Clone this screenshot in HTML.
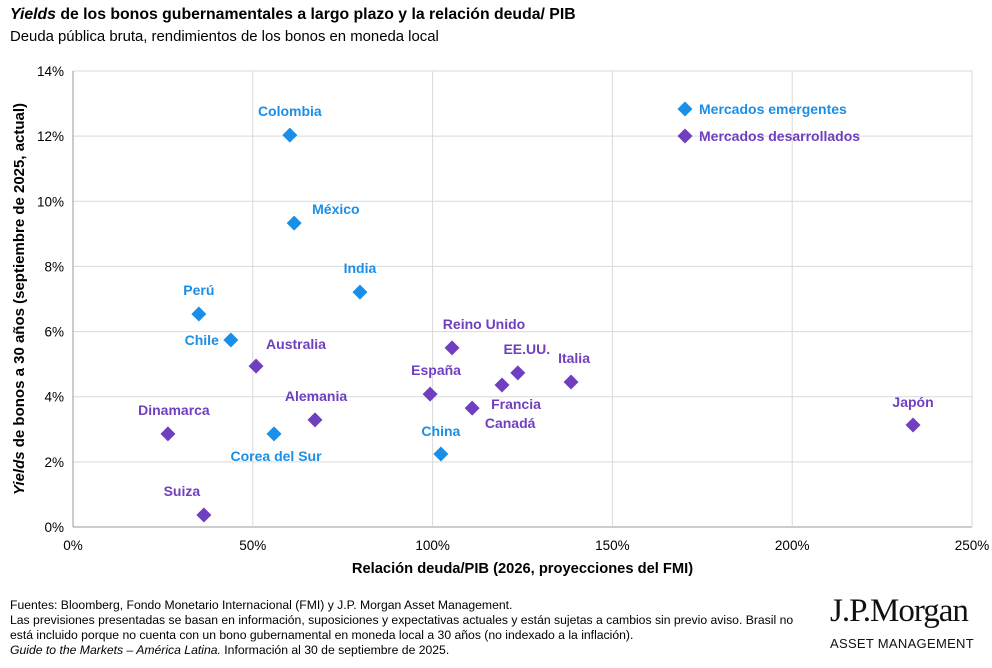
<!DOCTYPE html>
<html><head><meta charset="utf-8"><style>
body{margin:0;width:992px;height:668px;background:#fff;font-family:"Liberation Sans",sans-serif;overflow:hidden;position:relative}
.t{position:absolute;left:10px;top:6px;font-size:15.8px;font-weight:bold;color:#000}
.s{position:absolute;left:10px;top:29px;font-size:14.9px;color:#000}
.f{position:absolute;left:10px;top:598px;font-size:12.2px;line-height:15px;color:#000;width:800px}
.logo1{position:absolute;left:830px;top:593px;font-family:"Liberation Serif",serif;font-size:33px;letter-spacing:-1px;color:#111}
.logo2{position:absolute;left:830px;top:636px;font-size:13px;letter-spacing:0.3px;color:#111}
svg{position:absolute;left:0;top:0}
</style></head><body>
<div class="t"><i>Yields</i> de los bonos gubernamentales a largo plazo y la relación deuda/ PIB</div>
<div class="s">Deuda pública bruta, rendimientos de los bonos en moneda local</div>
<svg id="c" width="992" height="668"></svg>
<div class="f">Fuentes: Bloomberg, Fondo Monetario Internacional (FMI) y J.P. Morgan Asset Management.<br>Las previsiones presentadas se basan en información, suposiciones y expectativas actuales y están sujetas a cambios sin previo aviso. Brasil no está incluido porque no cuenta con un bono gubernamental en moneda local a 30 años (no indexado a la inflación).<br><i>Guide to the Markets – América Latina.</i> Información al 30 de septiembre de 2025.</div>
<div class="logo1">J.P.Morgan</div>
<div class="logo2">ASSET MANAGEMENT</div>
<script>
const emNames=["Colombia","México","India","Perú","Chile","China","Corea del Sur"];
const emX=[60.3,61.5,79.8,35.0,43.9,102.3,55.9];
const emY=[12.03,9.33,7.21,6.54,5.74,2.24,2.86];
const dmNames=["Australia","Reino Unido","EE.UU.","Italia","España","Francia","Canadá","Alemania","Dinamarca","Suiza","Japón"];
const dmX=[50.9,105.4,123.7,138.5,99.3,119.3,111.0,67.3,26.4,36.4,233.6];
const dmY=[4.94,5.50,4.73,4.45,4.08,4.36,3.65,3.29,2.86,0.37,3.13];
const xTicks=[0,50,100,150,200,250];
const yTicks=[0,2,4,6,8,10,12,14];
const emOff=[[0,-19,"middle"],[18,-9,"start"],[0,-19,"middle"],[0,-19,"middle"],[-12,5,"end"],[0,-18,"middle"],[2,27,"middle"]];
const dmOff=[[10,-17,"start"],[32,-19,"middle"],[9,-19,"middle"],[3,-19,"middle"],[6,-19,"middle"],[14,24,"middle"],[38,20,"middle"],[1,-19,"middle"],[6,-19,"middle"],[-22,-19,"middle"],[0,-18,"middle"]];
const X0=73,X1=972,Y0=527,Y1=71;
const sx=v=>X0+(X1-X0)*v/250, sy=v=>Y0-(Y0-Y1)*v/14;
const svg=document.getElementById('c');const NS="http://www.w3.org/2000/svg";
function mk(t,a,txt){const e=document.createElementNS(NS,t);for(const k in a)e.setAttribute(k,a[k]);if(txt!==undefined)e.textContent=txt;svg.appendChild(e);return e;}
yTicks.forEach(v=>{const l=mk('line',{x1:X0,x2:X1,y1:sy(v),y2:sy(v),stroke:v==0?'#999':'#d9d9d9'});

const t=mk('text',{x:X0-9,y:sy(v)+5,'text-anchor':'end','font-size':13.5,fill:'#000'},v+'%');
});
xTicks.forEach(v=>{const l=mk('line',{x1:sx(v),x2:sx(v),y1:Y1,y2:Y0,stroke:v==0?'#999':'#d9d9d9'});

const t=mk('text',{x:sx(v),y:Y0+23,'text-anchor':'middle','font-size':13.5,fill:'#000'},v+'%');
});
const xt=mk('text',{x:(X0+X1)/2,y:573,'text-anchor':'middle','font-size':14.7,'font-weight':'bold'},'Relación deuda/PIB (2026, proyecciones del FMI)');

const yt=mk('text',{x:0,y:0,'text-anchor':'middle','font-size':15,'font-weight':'bold',transform:`translate(24,${(Y0+Y1)/2}) rotate(-90)`});
yt.innerHTML='<tspan font-style="italic">Yields</tspan> de bonos a 30 años (septiembre de 2025, actual)';

function dia(x,y,c){const r=7.5;return mk('polygon',{points:`${x},${y-r} ${x+r},${y} ${x},${y+r} ${x-r},${y}`,fill:c});}
function series(names,xs,ys,offs,c,nm){names.forEach((n,i)=>{const x=sx(xs[i]),y=sy(ys[i]);
const d=dia(x,y,c);
const t=mk('text',{x:x+offs[i][0],y:y+offs[i][1],'text-anchor':offs[i][2],'font-size':14,'font-weight':'bold',fill:c},n);
});}
const BLUE='#1a8fe8',PURP='#6f3fbf';
series(emNames,emX,emY,emOff,BLUE,'emerging');
series(dmNames,dmX,dmY,dmOff,PURP,'developed');
[[BLUE,'Mercados emergentes',109],[PURP,'Mercados desarrollados',136]].forEach(([c,n,y])=>{
const d=dia(685,y,c);
const t=mk('text',{x:699,y:y+5,'font-size':14,'font-weight':'bold',fill:c},n);
});
</script>
</body></html>
